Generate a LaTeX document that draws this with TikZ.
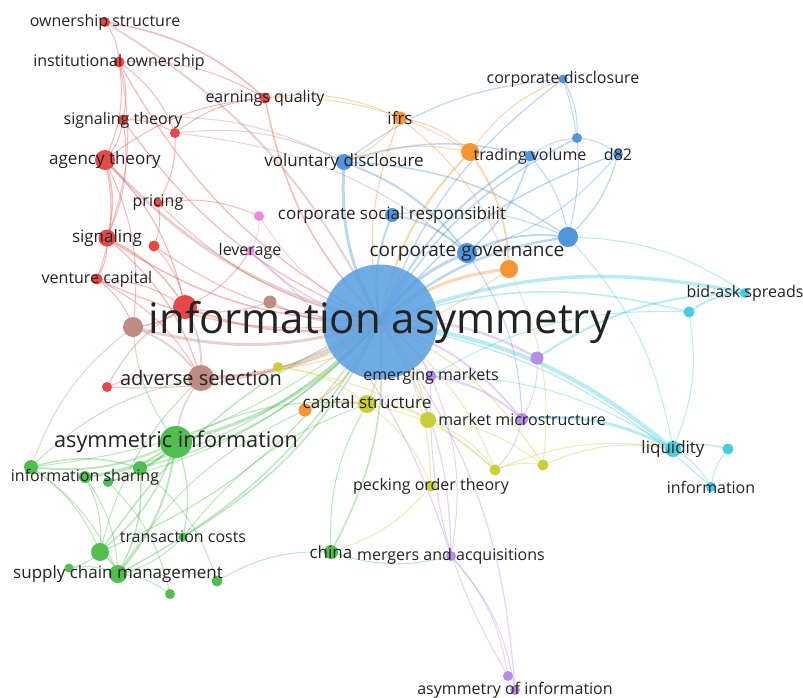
\documentclass[tikz,border=0pt]{standalone}
\usepackage{fontspec}
\setmainfont{Open Sans}
\pgfdeclarelayer{bg}
\pgfdeclarelayer{fg}
\pgfsetlayers{bg,main,fg}
\begin{document}
\begin{tikzpicture}[x=1pt,y=-1pt]
\definecolor{cr}{RGB}{230,72,70}
\definecolor{cg}{RGB}{80,190,80}
\definecolor{cb}{RGB}{80,150,220}
\definecolor{cy}{RGB}{205,205,60}
\definecolor{cp}{RGB}{185,140,235}
\definecolor{cc}{RGB}{70,205,222}
\definecolor{co}{RGB}{245,150,50}
\definecolor{cn}{RGB}{190,140,130}
\definecolor{ck}{RGB}{232,140,225}
\definecolor{cbub}{RGB}{92,160,225}
\definecolor{labc}{RGB}{35,35,35}
\tikzset{
  nd/.style={circle, inner sep=0pt, minimum size=#1, draw=none},
  lab/.style={font=\fontsize{16}{17}\selectfont, text=labc, inner sep=0pt},
  labm/.style={font=\fontsize{17}{18}\selectfont, text=labc, inner sep=0pt},
  edge/.style={opacity=.38, line width=#1},
}
\begin{pgfonlayer}{bg}
\fill[white] (0,0) rectangle (803,697);
\end{pgfonlayer}
\useasboundingbox (0,0) rectangle (803,697);
% ---------- nodes ----------
\node[nd=115pt, fill=cbub, fill opacity=.88] (ia) at (380,322) {};
% red
\node[nd=10pt, fill=cr] (os) at (105,22) {};
\node[nd=11pt, fill=cr] (io) at (119,62) {};
\node[nd=11pt, fill=cr] (eq) at (265,98) {};
\node[nd=11pt, fill=cr] (st) at (123,120) {};
\node[nd=10pt, fill=cr] (r1) at (175,133) {};
\node[nd=20pt, fill=cr] (at) at (105,160) {};
\node[nd=9pt, fill=cr] (pr) at (158,203) {};
\node[nd=11pt, fill=cr] (r2) at (154,246) {};
\node[nd=17pt, fill=cr] (sg) at (107,238) {};
\node[nd=11pt, fill=cr] (vc) at (97,279) {};
\node[nd=24pt, fill=cr] (r3) at (185,307) {};
\node[nd=10pt, fill=cr] (r4) at (107,387) {};
% brown
\node[nd=20pt, fill=cn] (b1) at (133,327) {};
\node[nd=13pt, fill=cn] (b2) at (270,302) {};
\node[nd=26pt, fill=cn] (as) at (201,378) {};
% pink
\node[nd=10pt, fill=ck] (p1) at (259,216) {};
\node[nd=9pt, fill=ck] (lev) at (250,251) {};
% blue
\node[nd=16pt, fill=cb] (vd) at (344,162) {};
\node[nd=9pt, fill=cb] (cd) at (563,79) {};
\node[nd=11pt, fill=cb] (tv) at (530,156) {};
\node[nd=10pt, fill=cb] (d82) at (618,154) {};
\node[nd=10pt, fill=cb] (bl1) at (577,138) {};
\node[nd=14pt, fill=cb] (csr) at (392,215) {};
\node[nd=20pt, fill=cb] (cgov) at (467,253) {};
\node[nd=20pt, fill=cb] (bl2) at (568,237) {};
% orange
\node[nd=13pt, fill=co] (ifrs) at (400,118) {};
\node[nd=18pt, fill=co] (o1) at (470,152) {};
\node[nd=18pt, fill=co] (o2) at (509,269) {};
\node[nd=13pt, fill=co] (o3) at (305,410) {};
% yellow
\node[nd=18pt, fill=cy] (cs) at (367,404) {};
\node[nd=10pt, fill=cy] (y1) at (278,367) {};
\node[nd=16pt, fill=cy] (y2) at (428,420) {};
\node[nd=11pt, fill=cy] (y3) at (495,470) {};
\node[nd=11pt, fill=cy] (y4) at (543,465) {};
\node[nd=11pt, fill=cy] (po) at (431,486) {};
% purple
\node[nd=11pt, fill=cp] (em) at (431,376) {};
\node[nd=13pt, fill=cp] (pu1) at (537,358) {};
\node[nd=12pt, fill=cp] (mm) at (522,419) {};
\node[nd=10pt, fill=cp] (ma) at (451,556) {};
\node[nd=10pt, fill=cp] (pu2) at (508,676) {};
\node[nd=10pt, fill=cp] (aoi) at (515,690) {};
% cyan
\node[nd=10pt, fill=cc] (bas) at (745,293) {};
\node[nd=11pt, fill=cc] (c1) at (689,312) {};
\node[nd=16pt, fill=cc] (liq) at (673,449) {};
\node[nd=11pt, fill=cc] (c2) at (728,449) {};
\node[nd=10pt, fill=cc] (inf) at (711,487) {};
% green
\node[nd=32pt, fill=cg] (ai) at (176,442) {};
\node[nd=14pt, fill=cg] (g1) at (31,467) {};
\node[nd=12pt, fill=cg] (is) at (85,477) {};
\node[nd=10pt, fill=cg] (g2) at (108,482) {};
\node[nd=14pt, fill=cg] (g3) at (140,468) {};
\node[nd=9pt, fill=cg] (tc) at (183,537) {};
\node[nd=18pt, fill=cg] (g4) at (100,552) {};
\node[nd=9pt, fill=cg] (g5) at (69,568) {};
\node[nd=18pt, fill=cg] (scm) at (118,574) {};
\node[nd=11pt, fill=cg] (g6) at (217,581) {};
\node[nd=10pt, fill=cg] (g7) at (170,594) {};
\node[nd=14pt, fill=cg] (ch) at (331,552) {};
% ---------- edges ----------
\begin{pgfonlayer}{bg}
\foreach \a/\b/\c/\w in {
 ia/vd/cb/3, ia/csr/cb/2, ia/cgov/cb/3, ia/bl2/cb/2.5, ia/tv/cb/2, ia/cd/cb/1.2, ia/d82/cb/1.5, ia/bl1/cb/1.5,
 ia/o1/co/2, ia/ifrs/co/1.2, ia/o2/co/3, ia/em/cp/2, ia/pu1/cp/2.5, ia/mm/cp/2, ia/liq/cc/4, ia/bas/cc/3.5,
 ia/c1/cc/1.5, ia/inf/cc/1.2, ia/cs/cy/2, ia/y2/cy/1.5, ia/y3/cy/1.2, ia/y4/cy/1.2, ia/po/cy/1.2,
 ia/ma/cp/1.2, ia/aoi/cp/1.2, ia/ai/cg/3, ia/as/cn/4, ia/b1/cn/3, ia/b2/cn/2, ia/r3/cr/2, ia/at/cn/3,
 ia/sg/cr/1.5, ia/st/cr/1.2, ia/eq/cr/1.5, ia/io/cr/1.2, ia/lev/cp/1.5, ia/p1/ck/1.2, ia/o3/co/1.5,
 ia/y1/cy/1.2, ia/tc/cg/1.5, ia/ch/cg/1.5, ia/scm/cg/1.5, ia/g4/cg/1.2, ia/is/cg/1.2, ia/vc/cr/1.2,
 ia/r4/cr/1, ia/g3/cg/1.5, os/ia/cn/2, ia/g1/cg/1, ia/g2/cg/1, ia/pr/cr/1, ia/r2/cr/1,
 os/io/cr/1, os/eq/cr/1.5, io/st/cr/1, io/at/cr/1, io/r1/cr/1, io/eq/cr/1, st/at/cr/1, st/r1/cr/1,
 r1/eq/cr/1, r1/pr/cr/1, at/sg/cr/1.5, at/vc/cr/1, at/r3/cr/1.2, at/b1/cr/1, sg/vc/cr/1.2, sg/r3/cr/1.5,
 sg/as/cr/1.2, pr/r2/cr/1, pr/p1/cr/1, r2/r3/cr/1, vc/r3/cr/1, vc/b1/cr/1, r3/b1/cr/1.5, r4/as/cr/1,
 r4/r3/cr/1, eq/ifrs/co/1, r1/vd/cn/1, st/sg/cr/1, io/sg/cr/1, vc/as/cr/1, r3/as/cn/2, at/eq/cr/1,
 b1/as/cn/2, b2/r3/cn/1.5, lev/r3/cr/1, lev/ma/cp/1.2, p1/lev/ck/1, r1/cgov/cn/1, st/vd/cn/1,
 ai/is/cg/2, ai/g1/cg/2, ai/g2/cg/1.5, ai/g3/cg/2, ai/tc/cg/1.2, ai/scm/cg/2, ai/g4/cg/1.5,
 g1/g4/cg/1, g1/scm/cg/1, is/scm/cg/1, g3/scm/cg/1.5, g4/scm/cg/2, scm/g6/cg/1, scm/g7/cg/1,
 g6/ch/cg/1, tc/scm/cg/1, g4/g5/cg/1, g5/scm/cg/1, g1/g3/cg/1.5, is/g4/cg/1, g2/g7/cg/1, g3/g6/cg/1,
 ai/as/cn/1.5, ai/cs/cg/1.2, g1/as/cg/1, ch/cs/cg/1, ai/b1/cg/1, g4/ia/cg/1.5, scm/o3/cg/1,
 g1/b1/cn/1, g4/as/cg/1, tc/cs/cg/1,
 vd/cgov/cb/2, vd/tv/cb/1.5, vd/bl2/cb/1.5, vd/cd/cb/1.2, tv/bl1/cb/1, tv/cgov/cb/1.5, cd/bl1/cb/1,
 cd/bl2/cb/1, bl1/d82/cb/1, d82/bl2/cb/1.2, d82/cgov/cb/1, cgov/bl2/cb/2, csr/cgov/cb/1.5,
 bl2/bas/cc/1, bl2/liq/cc/1, vd/o1/co/1, cgov/mm/cb/1, csr/bl2/cb/1, tv/bl2/cb/1,
 ifrs/o1/co/1.2, ifrs/o2/co/1, o1/o2/co/2, o1/cd/co/1, o3/cs/co/1, ifrs/vd/co/1, o2/as/co/1, eq/o1/co/1,
 cs/y2/cy/1.2, cs/po/cy/1, cs/y3/cy/1, y2/y4/cy/1, y3/y4/cy/1, y1/cs/cy/1, po/ch/cy/1, y3/liq/cy/1,
 y4/liq/cy/1, y2/y3/cy/1, y1/y3/cy/1, o2/y4/cy/1,
 em/mm/cp/2, em/ma/cp/1, ma/aoi/cp/1, ma/pu2/cp/1, pu2/em/cp/1, pu1/mm/cp/1, ma/ch/cg/1, mm/y3/cp/1,
 em/liq/cc/1, mm/liq/cc/3,
 liq/c2/cc/1.2, liq/inf/cc/1, c1/bas/cc/2, c1/liq/cc/1, inf/c2/cc/1, em/c1/cc/1, pu1/bas/cc/2}
 {\draw[edge=\w pt, draw=\c] (\a.center) to[bend left=16] (\b.center);}
\end{pgfonlayer}
% ---------- labels ----------
\begin{pgfonlayer}{fg}
\node[lab] (los) at (os) {ownership structure};
\node[lab] (lio) at (io) {institutional ownership};
\node[lab] (leq) at (eq) {earnings quality};
\node[lab] (lst) at (st) {signaling theory};
\node[labm] (lat) at (at) {agency theory};
\node[lab] (lpr) at (pr) {pricing};
\node[labm] (lsg) at (sg) {signaling};
\node[lab] (lvc) at (vc) {venture capital};
\node[font=\fontsize{20}{21}\selectfont, text=labc, inner sep=0pt] (las) at (as) {adverse selection};
\node[lab] (llev) at (lev) {leverage};
\node[font=\fontsize{42}{44}\selectfont, text=labc, inner sep=0pt] (lia) at (ia) {information asymmetry};
\node[labm] (lvd) at (vd) {voluntary disclosure};
\node[lab] (lcd) at (cd) {corporate disclosure};
\node[lab] (ltv) at (tv) {trading volume};
\node[lab] (ld82) at (d82) {d82};
\node[labm] (lcsr) at (csr) {corporate social responsibilit};
\node[font=\fontsize{19}{20}\selectfont, text=labc, inner sep=0pt] (lcgov) at (cgov) {corporate governance};
\node[labm] (lifrs) at (ifrs) {ifrs};
\node[labm] (lcs) at (cs) {capital structure};
\node[lab] (lpo) at (po) {pecking order theory};
\node[lab] (lem) at (em) {emerging markets};
\node[lab] (lmm) at (mm) {market microstructure};
\node[lab] (lma) at (ma) {mergers and acquisitions};
\node[lab] (laoi) at (aoi) {asymmetry of information};
\node[lab] (lbas) at (bas) {bid-ask spreads};
\node[labm] (lliq) at (liq) {liquidity};
\node[lab] (linf) at (inf) {information};
\node[font=\fontsize{21.7}{23}\selectfont, text=labc, inner sep=0pt] (lai) at (ai) {asymmetric information};
\node[lab] (lis) at (is) {information sharing};
\node[lab] (ltc) at (tc) {transaction costs};
\node[labm] (lscm) at (scm) {supply chain management};
\node[labm] (lch) at (ch) {china};
\end{pgfonlayer}
\end{tikzpicture}
\end{document}
